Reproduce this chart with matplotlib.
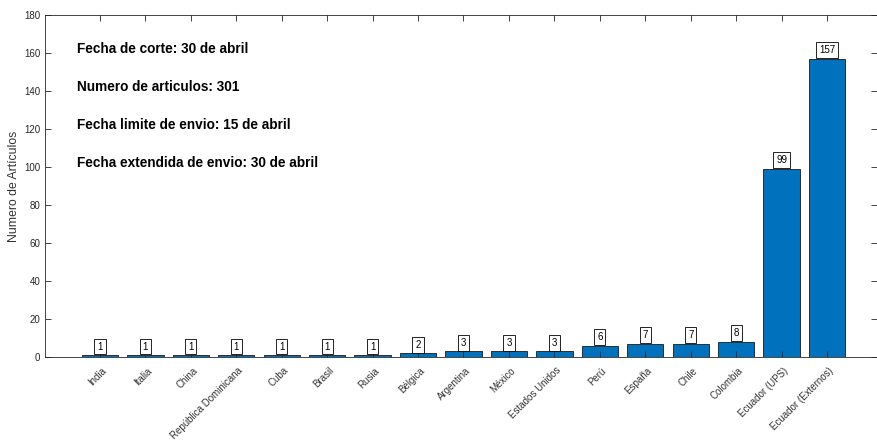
import matplotlib
matplotlib.use("Agg")
import matplotlib.pyplot as plt
import numpy as np
from matplotlib.transforms import ScaledTranslation

plt.rcParams['font.family'] = ['Liberation Sans', 'DejaVu Sans']

categories = ["India", "Italia", "China", "República Dominicana", "Cuba", "Brasil",
              "Rusia", "Bélgica", "Argentina", "México", "Estados Unidos", "Perú",
              "España", "Chile", "Colombia", "Ecuador (UPS)", "Ecuador (Externos)"]
values = [1, 1, 1, 1, 1, 1, 1, 2, 3, 3, 3, 6, 7, 7, 8, 99, 157]
notes = ["Fecha de corte: 30 de abril",
         "Numero de articulos: 301",
         "Fecha limite de envio: 15 de abril",
         "Fecha extendida de envio: 30 de abril"]
note_y = [162, 142, 122, 102]
yticks = list(range(0, 181, 20))

fig = plt.figure(figsize=(8.77, 4.47), dpi=100)
ax = fig.add_axes([0.0513, 0.2013, 0.9487, 0.7651])

x = np.arange(len(categories))
ax.bar(x, values, width=0.8, color='#0072BD', edgecolor='#1a1a1a', linewidth=0.6)

for xi, v in zip(x, values):
    ax.text(xi, v + 4.5, str(v), ha='center', va='center', fontsize=7, color='black',
            bbox=dict(boxstyle='square,pad=0.3', facecolor='white', edgecolor='black', linewidth=0.6))

for t, yy in zip(notes, note_y):
    ax.text(-0.5, yy, t, ha='left', va='center', fontsize=9.8, fontweight='bold', color='black')

ax.set_xlim(-1.21, 17.1)
ax.set_ylim(0, 180)
ax.set_yticks(yticks)
ax.set_xticks(x)
ax.set_xticklabels([])
offset = ScaledTranslation(5/100, -12/100, fig.dpi_scale_trans)
tr = ax.get_xaxis_transform() + offset
for xi, c in zip(x, categories):
    ax.text(xi, 0, c, transform=tr, rotation=45, ha='right', va='center',
            rotation_mode='anchor', fontsize=7, color='#333333', clip_on=False)
ax.tick_params(axis='y', labelsize=7, labelcolor='#262626')
ax.tick_params(direction='in', length=4, width=0.6, color='#262626', top=True, right=True)
for s in ax.spines.values():
    s.set_linewidth(0.6)
    s.set_color('#262626')
ax.set_ylabel("Numero de Artículos", fontsize=8.8, color='#333333')
ax.yaxis.set_label_coords(-0.030, 0.5)

fig.savefig("out.png", dpi=100)
